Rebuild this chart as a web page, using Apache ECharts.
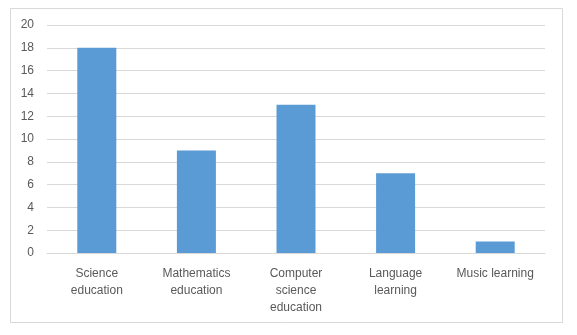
<!DOCTYPE html>
<html><head><meta charset="utf-8">
<script src="https://cdn.jsdelivr.net/npm/echarts@6/dist/echarts.min.js"></script>
<style>html,body{margin:0;padding:0;background:#fff}#c{width:577px;height:335px}</style>
</head><body><div id="c"></div>
<script>
var categories = ['Science\neducation', 'Mathematics\neducation', 'Computer\nscience\neducation', 'Language\nlearning', 'Music learning'];
var values = [18, 9, 13, 7, 1];
var yTicks = {min: 0, max: 20, interval: 2};

var chart = echarts.init(document.getElementById('c'), null, {renderer: 'canvas'});
chart.setOption({
  animation: false,
  backgroundColor: '#fff',
  graphic: [{type: 'rect', shape: {x: 10.5, y: 8.5, width: 552, height: 314}, style: {fill: 'none', stroke: '#d9d9d9', lineWidth: 1}, silent: true}],
  grid: {left: 47, right: 32, top: 25, bottom: 82, containLabel: false},
  xAxis: {
    type: 'category', data: categories,
    axisLine: {show: true, lineStyle: {color: '#d9d9d9'}},
    axisTick: {show: false},
    axisLabel: {color: '#595959', fontFamily: 'Liberation Sans, Arial, sans-serif', fontSize: 12, lineHeight: 17, margin: 12, interval: 0}
  },
  yAxis: {
    type: 'value', min: yTicks.min, max: yTicks.max, interval: yTicks.interval,
    axisLine: {show: false}, axisTick: {show: false},
    splitLine: {lineStyle: {color: '#d9d9d9'}},
    axisLabel: {color: '#595959', fontFamily: 'Liberation Sans, Arial, sans-serif', fontSize: 12, margin: 13}
  },
  series: [{type: 'bar', data: values, barWidth: 39, itemStyle: {color: '#5b9bd5'}}]
});
</script></body></html>
